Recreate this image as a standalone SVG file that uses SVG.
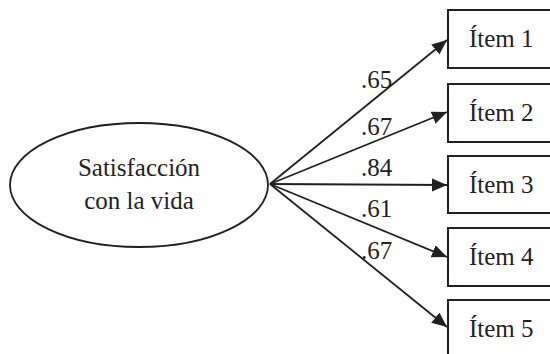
<svg xmlns="http://www.w3.org/2000/svg" width="550" height="354" viewBox="0 0 550 354" font-family="'Liberation Serif', 'Times New Roman', Times, serif" font-size="25">
  <style>
    text { fill: #231f20; }
    .box { fill: #fff; stroke: #231f20; stroke-width: 2; }
    .latent { fill: #fff; stroke: #231f20; stroke-width: 1.8; }
    .path { stroke: #231f20; stroke-width: 1.8; fill: none; marker-end: url(#arrow); }
  </style>
  <defs>
    <marker id="arrow" markerUnits="userSpaceOnUse" markerWidth="16" markerHeight="14" refX="15" refY="6.5" orient="auto">
      <path d="M0,0 L15,6.5 L0,13 Z" fill="#231f20"/>
    </marker>
  </defs>
  <rect width="550" height="354" fill="#fff"/>

  <!-- latent factor -->
  <g id="factor">
    <ellipse class="latent" cx="139" cy="185" rx="129" ry="62"/>
    <text x="139" y="176" text-anchor="middle">Satisfacción</text>
    <text x="139" y="209" text-anchor="middle">con la vida</text>
  </g>

  <!-- observed indicators -->
  <g id="item1">
    <rect class="box" x="448" y="10" width="110" height="58"/>
    <text x="469" y="47">Ítem 1</text>
  </g>
  <g id="item2">
    <rect class="box" x="448" y="84" width="110" height="58"/>
    <text x="469" y="121">Ítem 2</text>
  </g>
  <g id="item3">
    <rect class="box" x="448" y="156" width="110" height="57"/>
    <text x="469" y="193">Ítem 3</text>
  </g>
  <g id="item4">
    <rect class="box" x="448" y="228" width="110" height="58"/>
    <text x="469" y="265">Ítem 4</text>
  </g>
  <g id="item5">
    <rect class="box" x="448" y="300" width="110" height="60"/>
    <text x="469" y="337">Ítem 5</text>
  </g>

  <!-- factor loadings -->
  <g id="connectors">
    <line class="path" x1="270" y1="184" x2="447" y2="40"/>
    <line class="path" x1="270" y1="184" x2="447" y2="112"/>
    <line class="path" x1="270" y1="184" x2="447" y2="185"/>
    <line class="path" x1="270" y1="184" x2="447" y2="257"/>
    <line class="path" x1="270" y1="184" x2="447" y2="327"/>
    <text x="361" y="88">.65</text>
    <text x="361" y="135">.67</text>
    <text x="361" y="176">.84</text>
    <text x="361" y="217">.61</text>
    <text x="361" y="259">.67</text>
  </g>
</svg>
